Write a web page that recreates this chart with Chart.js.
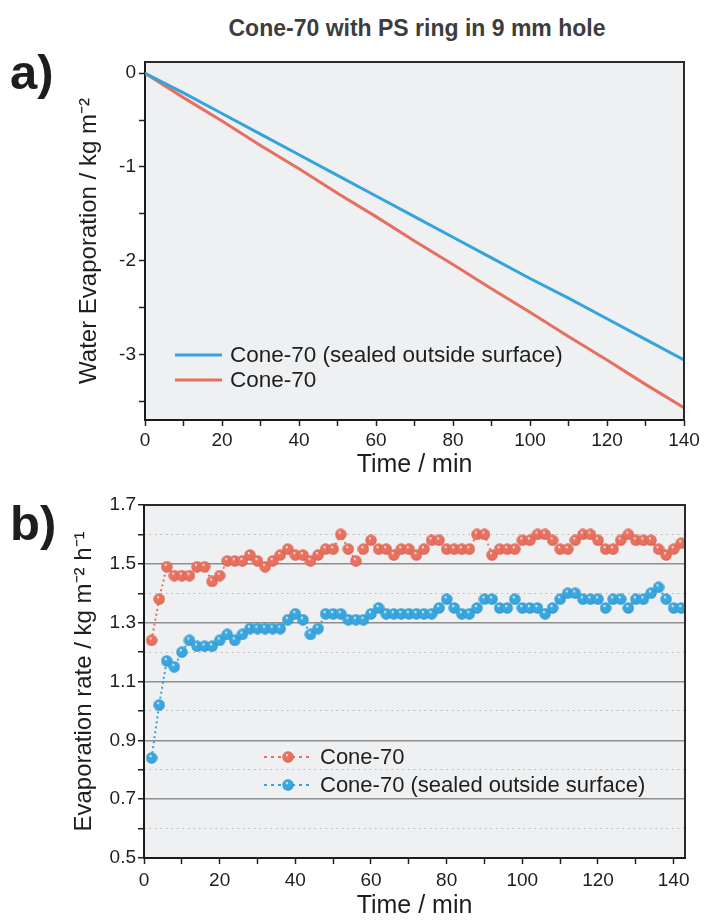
<!DOCTYPE html>
<html><head><meta charset="utf-8">
<script src="https://cdn.jsdelivr.net/npm/chart.js@4.4.0/dist/chart.umd.min.js"></script>
<style>
html,body{margin:0;padding:0;background:#fff;width:704px;height:923px;overflow:hidden;font-family:"Liberation Sans",Arial,sans-serif;}
canvas{position:absolute;left:0;}
#cA{top:0;}
#cB{top:470px;}
.lbl{position:absolute;font-weight:bold;color:#1e1e1e;white-space:nowrap;}
</style></head><body>
<div class="lbl" style="left:0;top:15px;width:834px;text-align:center;font-size:23px;color:#3d3d3d">Cone-70 with PS ring in 9 mm hole</div>
<div class="lbl" style="left:10px;top:44px;font-size:49px">a)</div>
<div class="lbl" style="left:10px;top:495px;font-size:49px">b)</div>
<canvas id="cA" width="704" height="480"></canvas>
<canvas id="cB" width="704" height="453"></canvas>
<script>
// ---------- Panel a data ----------
const timeA = [0,10,20,30,40,50,60,70,80,90,100,110,120,130,140];
const sealedA = [0,-0.21,-0.43,-0.65,-0.87,-1.09,-1.31,-1.53,-1.75,-1.97,-2.19,-2.40,-2.62,-2.84,-3.06];
const coneA = [0,-0.26,-0.51,-0.77,-1.02,-1.28,-1.53,-1.79,-2.04,-2.30,-2.55,-2.81,-3.06,-3.32,-3.57];
const xTicksA = [0,10,20,30,40,50,60,70,80,90,100,110,120,130,140];
const yTicksA = [0,-0.5,-1,-1.5,-2,-2.5,-3,-3.5];
const labelsA = ['Cone-70 (sealed outside surface)','Cone-70'];

// ---------- Panel b data ----------
const timeB = [2,4,6,8,10,12,14,16,18,20,22,24,26,28,30,32,34,36,38,40,42,44,46,48,50,52,54,56,58,60,62,64,66,68,70,72,74,76,78,80,82,84,86,88,90,92,94,96,98,100,102,104,106,108,110,112,114,116,118,120,122,124,126,128,130,132,134,136,138,140,142];
const coneB = [1.24,1.38,1.49,1.46,1.46,1.46,1.49,1.49,1.44,1.46,1.51,1.51,1.51,1.53,1.51,1.49,1.51,1.53,1.55,1.53,1.53,1.51,1.53,1.55,1.55,1.60,1.55,1.51,1.55,1.58,1.55,1.55,1.53,1.55,1.55,1.53,1.55,1.58,1.58,1.55,1.55,1.55,1.55,1.60,1.60,1.53,1.55,1.55,1.55,1.58,1.58,1.60,1.60,1.58,1.55,1.55,1.58,1.60,1.60,1.58,1.55,1.55,1.58,1.60,1.58,1.58,1.58,1.55,1.53,1.55,1.57];
const sealedB = [0.84,1.02,1.17,1.15,1.20,1.24,1.22,1.22,1.22,1.24,1.26,1.24,1.26,1.28,1.28,1.28,1.28,1.28,1.31,1.33,1.31,1.26,1.28,1.33,1.33,1.33,1.31,1.31,1.31,1.33,1.35,1.33,1.33,1.33,1.33,1.33,1.33,1.33,1.35,1.38,1.35,1.33,1.33,1.35,1.38,1.38,1.35,1.35,1.38,1.35,1.35,1.35,1.33,1.35,1.38,1.40,1.40,1.38,1.38,1.38,1.35,1.38,1.38,1.35,1.38,1.38,1.40,1.42,1.38,1.35,1.35];
const xTicksB = [0,10,20,30,40,50,60,70,80,90,100,110,120,130,140];
const yTicksB = [0.5,0.6,0.7,0.8,0.9,1.0,1.1,1.2,1.3,1.4,1.5,1.6,1.7];
const yMinorGridB = [0.6,0.8,1.0,1.2,1.4,1.6];
const labelsB = ['Cone-70','Cone-70 (sealed outside surface)'];

const RED = '#e66f5f', BLUE = '#35a4dd';
const FONT = '"Liberation Sans", Arial, sans-serif';
const TXT = '#1e1e1e';

function sphere(base, dark){
  const c = document.createElement('canvas');
  c.width = 12; c.height = 12;
  const g = c.getContext('2d');
  const gr = g.createRadialGradient(4.8,3.8,0.3,6,6,6.2);
  gr.addColorStop(0,'#ffffff');
  gr.addColorStop(0.22, base);
  gr.addColorStop(0.75, base);
  gr.addColorStop(1, dark);
  g.fillStyle = gr;
  g.beginPath(); g.arc(6,6,5.7,0,Math.PI*2); g.fill();
  return c;
}
const redBall = sphere('#e8705f','#c24a3c');
const blueBall = sphere('#3aa6de','#1d7db5');

const framePlugin = {
  id:'frame',
  beforeDraw(chart){
    const {ctx, chartArea:a} = chart;
    ctx.save(); ctx.fillStyle = '#eff0f2';
    ctx.fillRect(a.left, a.top, a.right-a.left, a.bottom-a.top);
    ctx.restore();
  },
  afterDraw(chart){
    const {ctx, chartArea:a} = chart;
    ctx.save(); ctx.strokeStyle = '#2a2a2a'; ctx.lineWidth = 2;
    ctx.beginPath();
    ctx.moveTo(a.left, a.top); ctx.lineTo(a.right, a.top); ctx.lineTo(a.right, a.bottom);
    ctx.stroke(); ctx.restore();
  }
};

// ---------- Chart A ----------
new Chart(document.getElementById('cA'), {
  type:'line',
  data:{ datasets:[
    {label:labelsA[0], data: timeA.map((t,i)=>({x:t,y:sealedA[i]})), borderColor:BLUE, borderWidth:3, pointRadius:0, tension:0},
    {label:labelsA[1], data: timeA.map((t,i)=>({x:t,y:coneA[i]})), borderColor:RED, borderWidth:3, pointRadius:0, tension:0}
  ]},
  options:{
    responsive:false, animation:false, events:[],
    layout:{padding:{left:0, top:62, right:20, bottom:0}},
    plugins:{legend:{display:false}, tooltip:{enabled:false}},
    scales:{
      x:{type:'linear', min:0, max:140,
        afterBuildTicks(s){ s.ticks = xTicksA.map(v=>({value:v})); },
        afterFit(s){ s.height = 60; },
        ticks:{autoSkip:false, maxRotation:0, padding:3, color:TXT, font:{family:FONT,size:19},
          callback:(v)=> v%20===0 ? String(v) : ''},
        grid:{drawOnChartArea:false, drawTicks:true, tickLength:6, tickColor:'#222', tickWidth:1.5},
        border:{display:true, color:'#1a1a1a', width:2},
        title:{display:true, text:'Time / min', color:TXT, font:{family:FONT,size:25}, padding:{top:0,bottom:0}}
      },
      y:{type:'linear', min:-3.7, max:0.12,
        afterBuildTicks(s){ s.ticks = yTicksA.map(v=>({value:v})); },
        afterFit(s){ s.width = 145; },
        ticks:{autoSkip:false, padding:3, color:TXT, font:{family:FONT,size:19},
          callback:(v)=> Number.isInteger(v) ? String(v) : ''},
        grid:{drawOnChartArea:false, drawTicks:true, tickLength:6, tickColor:'#222', tickWidth:1.5},
        border:{display:true, color:'#1a1a1a', width:2},
        title:{display:true, text:'Water Evaporation / kg m\u207B\u00B2', color:TXT, font:{family:FONT,size:24}, padding:{top:75,bottom:0}}
      }
    }
  },
  plugins:[framePlugin, {
    id:'legA',
    afterDatasetsDraw(chart){
      const ctx = chart.ctx;
      const rows = [[355, chart.data.datasets[0]], [380, chart.data.datasets[1]]];
      ctx.save();
      ctx.font = '22.5px ' + FONT; ctx.fillStyle = TXT; ctx.textBaseline = 'middle';
      rows.forEach(([y, ds])=>{
        ctx.strokeStyle = ds.borderColor; ctx.lineWidth = 3;
        ctx.beginPath(); ctx.moveTo(175,y); ctx.lineTo(222,y); ctx.stroke();
        ctx.fillText(ds.label, 230, y+1);
      });
      ctx.restore();
    }
  }]
});

// ---------- Chart B ----------
new Chart(document.getElementById('cB'), {
  type:'line',
  data:{ datasets:[
    {label:labelsB[0], data: timeB.map((t,i)=>({x:t,y:coneB[i]})), borderColor:RED, borderWidth:2, borderDash:[2,3],
      pointStyle:redBall, pointRadius:6, tension:0, ball:redBall},
    {label:labelsB[1], data: timeB.map((t,i)=>({x:t,y:sealedB[i]})), borderColor:BLUE, borderWidth:2, borderDash:[2,3],
      pointStyle:blueBall, pointRadius:6, tension:0, ball:blueBall}
  ]},
  options:{
    responsive:false, animation:false, events:[],
    layout:{padding:{left:0, top:35, right:19, bottom:0}},
    plugins:{legend:{display:false}, tooltip:{enabled:false}},
    scales:{
      x:{type:'linear', min:0, max:143,
        afterBuildTicks(s){ s.ticks = xTicksB.map(v=>({value:v})); },
        afterFit(s){ s.height = 65; },
        ticks:{autoSkip:false, maxRotation:0, padding:5, color:TXT, font:{family:FONT,size:19},
          callback:(v)=> v%20===0 ? String(v) : ''},
        grid:{drawOnChartArea:false, drawTicks:true, tickLength:6, tickColor:'#222', tickWidth:1.5},
        border:{display:true, color:'#1a1a1a', width:2},
        title:{display:true, text:'Time / min', color:TXT, font:{family:FONT,size:25}, padding:{top:0,bottom:2}}
      },
      y:{type:'linear', min:0.5, max:1.7,
        afterBuildTicks(s){ s.ticks = yTicksB.map(v=>({value:v})); },
        afterFit(s){ s.width = 144; },
        ticks:{autoSkip:false, padding:2, color:TXT, font:{family:FONT,size:19},
          callback:(v)=> (Math.round(v*10)%2===1) ? v.toFixed(1) : ''},
        grid:{drawOnChartArea:true, drawTicks:true, tickLength:6, tickColor:'#222', tickWidth:1.5, lineWidth:1.5,
          color:(c)=>{ const k = Math.round(c.tick.value*10); return (k%2===1 && k>5 && k<17) ? '#8e8e8e' : 'rgba(0,0,0,0)'; }},
        border:{display:true, color:'#1a1a1a', width:2},
        title:{display:true, text:'Evaporation rate / kg m\u207B\u00B2 h\u207B\u00B9', color:TXT, font:{family:FONT,size:24}, padding:{top:70,bottom:0}}
      },
      y2:{type:'linear', position:'left', min:0.5, max:1.7,
        afterBuildTicks(s){ s.ticks = yMinorGridB.map(v=>({value:v})); },
        afterFit(s){ s.width = 0; },
        ticks:{display:false},
        grid:{drawOnChartArea:true, drawTicks:false, color:'#b4b4b4', lineWidth:1},
        border:{display:false, dash:[1.5,4]}
      }
    }
  },
  plugins:[framePlugin, {
    id:'legB',
    afterDatasetsDraw(chart){
      const ctx = chart.ctx;
      const rows = [[287, chart.data.datasets[0]], [315, chart.data.datasets[1]]];
      ctx.save();
      ctx.font = '22px ' + FONT; ctx.fillStyle = TXT; ctx.textBaseline = 'middle';
      rows.forEach(([y, ds])=>{
        ctx.strokeStyle = ds.borderColor; ctx.lineWidth = 2; ctx.setLineDash([3,4]);
        ctx.beginPath(); ctx.moveTo(264,y); ctx.lineTo(312,y); ctx.stroke();
        ctx.setLineDash([]);
        ctx.drawImage(ds.ball, 288-6, y-6);
        ctx.fillText(ds.label, 320, y+1);
      });
      ctx.restore();
    }
  }]
});
</script>
</body></html>
